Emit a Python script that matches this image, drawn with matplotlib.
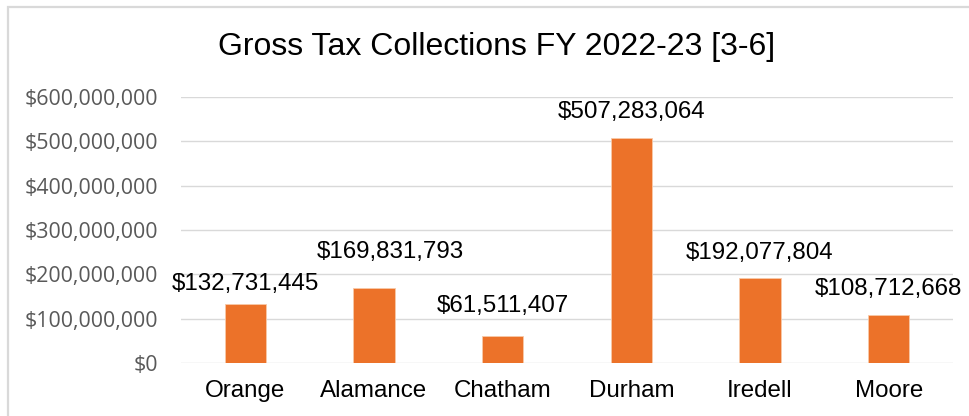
import matplotlib.pyplot as plt
from matplotlib.patches import Rectangle
from matplotlib.ticker import FuncFormatter

counties = ['Orange', 'Alamance', 'Chatham', 'Durham', 'Iredell', 'Moore']
collections = [132731445, 169831793, 61511407, 507283064, 192077804, 108712668]
y_ticks = [0, 100000000, 200000000, 300000000, 400000000, 500000000, 600000000]

# hand-placed label offsets above each bar, in pixels (dx, dy to label centre)
label_offsets = [(0, 20), (16, 35.5), (0, 30), (0, 26), (0, 25), (0, 26)]

W, H = 969, 416
fig = plt.figure(figsize=(W / 100, H / 100), dpi=100)

# light frame around the whole chart (runs off right and bottom)
fig.patches.append(Rectangle((7.5 / W, -0.1), 1.2, 1 - 6.5 / H + 0.1,
                             transform=fig.transFigure, fill=False,
                             edgecolor='#D9D9D9', linewidth=1.6))

ax = fig.add_axes([181 / W, 1 - 363 / H, (953 - 181) / W, (363 - 97) / H])
x = range(len(counties))
ax.bar(x, collections, width=0.32, color='#EC7229', edgecolor='#F8C9A8', linewidth=0.6, zorder=3)

ax.set_ylim(0, 600000000)
ax.set_xlim(-0.5, len(counties) - 0.5)
ax.set_yticks(y_ticks)
ax.yaxis.set_major_formatter(FuncFormatter(lambda v, p: f'${v:,.0f}'))
ax.grid(axis='y', color='#D9D9D9', linewidth=1, zorder=0)
ax.set_axisbelow(True)
for s in ax.spines.values():
    s.set_visible(False)
ax.tick_params(axis='y', length=0, pad=16.5, labelsize=15.4, labelcolor='#595959')
ax.tick_params(axis='x', length=0, pad=12.5, labelsize=17.4)
for lab in ax.get_yticklabels():
    lab.set_fontfamily('Open Sans')
ax.set_xticks(list(x))
ax.set_xticklabels(counties, fontfamily='Liberation Sans', color='black')

for i, v in enumerate(collections):
    dx, dy = label_offsets[i]
    ax.annotate(f'${v:,}', (i, v), xytext=(dx * 0.72, dy * 0.72), textcoords='offset points',
                ha='center', va='center', fontsize=17.4, fontfamily='Liberation Sans')

fig.text(497 / W, 1 - 47 / H, 'Gross Tax Collections FY 2022-23 [3-6]',
         ha='center', va='center', fontsize=23, fontfamily='Liberation Sans')

fig.savefig('out.png', dpi=100)
